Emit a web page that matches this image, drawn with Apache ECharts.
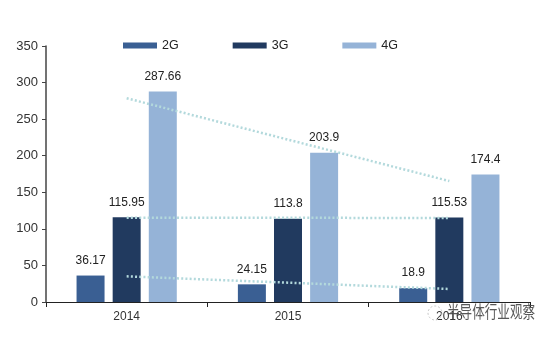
<!DOCTYPE html>
<html>
<head>
<meta charset="utf-8">
<script src="https://cdn.jsdelivr.net/npm/echarts@6/dist/echarts.min.js"></script>
<style>
  html, body { margin: 0; padding: 0; background: #fff; }
  #chart { width: 554px; height: 337px; }
</style>
</head>
<body>
<div id="chart"></div>
<script>
// Network generation shares by year
const years = ['2014', '2015', '2016'];
const values2G = [36.17, 24.15, 18.9];
const values3G = [115.95, 113.8, 115.53];
const values4G = [287.66, 203.9, 174.4];
const yTicks = { min: 0, max: 350, step: 50 };

const COLORS = { g2: '#3a5f93', g3: '#213a5f', g4: '#95b3d7', trend: '#b3d9dc' };

// Least-squares linear trend over the category positions
function linearTrend(vals) {
  const n = vals.length;
  const xs = vals.map((_, i) => i);
  const mx = xs.reduce((a, b) => a + b, 0) / n;
  const my = vals.reduce((a, b) => a + b, 0) / n;
  let num = 0, den = 0;
  xs.forEach((x, i) => { num += (x - mx) * (vals[i] - my); den += (x - mx) * (x - mx); });
  const k = num / den;
  return xs.map(x => my + k * (x - mx));
}

const labelStyle = {
  show: true, position: 'top', distance: 9,
  color: '#222', fontSize: 12, fontFamily: 'Liberation Sans, Arial, sans-serif'
};

function barSeries(name, data, color) {
  return {
    name, type: 'bar', data, barWidth: 28, barGap: '29%',
    itemStyle: { color }, label: labelStyle, z: 2
  };
}

function trendSeries(data) {
  return {
    type: 'line', data: linearTrend(data), showSymbol: false, silent: true,
    lineStyle: { color: COLORS.trend, width: 2.5, type: [2, 2.2] }, z: 5
  };
}

const chart = echarts.init(document.getElementById('chart'), null, { renderer: 'canvas' });
chart.setOption({
  animation: false,
  backgroundColor: '#ffffff',
  textStyle: { fontFamily: 'Liberation Sans, Arial, sans-serif' },
  legend: {
    data: ['2G', '3G', '4G'],
    left: 118, top: 34,
    itemWidth: 34, itemHeight: 6, itemGap: 54,
    icon: 'rect',
    textStyle: { color: '#222', fontSize: 12.5 }
  },
  grid: { left: 46, right: 24, top: 46, bottom: 35, containLabel: false },
  xAxis: {
    type: 'category', data: years, boundaryGap: true,
    axisLine: { lineStyle: { color: '#222', width: 1 } },
    axisTick: { show: true, length: 5, lineStyle: { color: '#222' } },
    axisLabel: { color: '#333', fontSize: 12, margin: 9 }
  },
  yAxis: {
    type: 'value', min: yTicks.min, max: yTicks.max, interval: yTicks.step,
    axisLine: { show: true, lineStyle: { color: '#444', width: 1.5 } },
    axisTick: { show: true, length: 4, lineStyle: { color: '#444' } },
    splitLine: { show: false },
    axisLabel: { color: '#333', fontSize: 13, margin: 8 }
  },
  graphic: [
    {
      type: 'circle', z: 100,
      shape: { cx: 435, cy: 313, r: 7 },
      style: { fill: 'none', stroke: '#c8c8c8', lineWidth: 1, lineDash: [2, 2] }
    },
    {
      type: 'text', x: 447, y: 303, scaleX: 0.74, z: 100,
      style: {
        text: '半导体行业观察', fill: 'rgba(70,70,70,0.9)',
        font: '17px "Noto Sans CJK SC", sans-serif'
      }
    }
  ],
  series: [
    barSeries('2G', values2G, COLORS.g2),
    barSeries('3G', values3G, COLORS.g3),
    barSeries('4G', values4G, COLORS.g4),
    trendSeries(values2G),
    trendSeries(values3G),
    trendSeries(values4G)
  ]
});
</script>
</body>
</html>
